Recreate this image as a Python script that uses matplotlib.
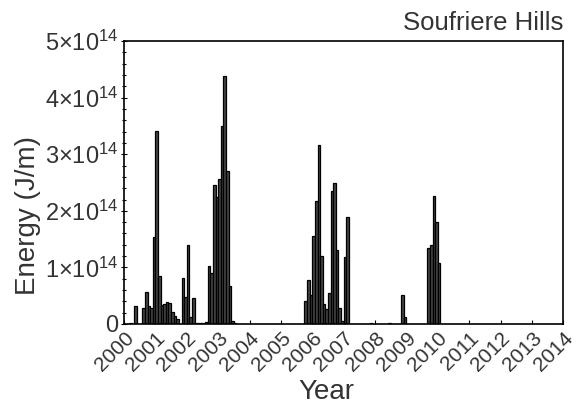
import numpy as np
import matplotlib
matplotlib.use("Agg")
import matplotlib.pyplot as plt
from matplotlib.ticker import MultipleLocator, FuncFormatter

plt.rcParams['font.family'] = ['Liberation Sans', 'DejaVu Sans']
plt.rcParams['mathtext.fontset'] = 'custom'
plt.rcParams['mathtext.rm'] = 'Liberation Sans'
plt.rcParams['mathtext.it'] = 'Liberation Sans'

# months since Jan 2000 that had a non-zero value, and energy in units of 1e14 J/m
months = [2, 4, 7, 8, 9, 10, 11, 12, 13, 14, 15, 16, 17, 18, 19, 20,
          22, 23, 24, 25, 26, 27, 28, 29, 30, 31, 32, 33, 34, 35, 36, 37, 38, 39, 40, 41, 42,
          69, 70, 71, 72, 73, 74, 75, 76, 77, 78, 79, 80, 81, 82, 83, 84, 85,
          94, 101, 106, 107, 116, 117, 118, 119, 120]
energy = [0.02, 0.31, 0.28, 0.57, 0.31, 0.29, 1.54, 3.41, 0.84, 0.34, 0.36, 0.38, 0.37, 0.21, 0.15, 0.09,
          0.82, 0.48, 1.39, 0.13, 0.46, 0.02, 0.02, 0.02, 0.02, 0.03, 1.02, 0.90, 2.45, 2.25, 2.56, 3.50, 4.38, 2.70, 0.67, 0.05, 0.02,
          0.41, 0.78, 0.51, 1.56, 2.17, 3.16, 1.21, 0.35, 0.26, 0.55, 2.35, 2.49, 1.31, 0.29, 0.05, 1.19, 1.89,
          0.02, 0.02, 0.52, 0.12, 1.34, 1.39, 2.26, 1.81, 1.07]
years = list(range(2000, 2015))

x = 2000 + np.array(months) / 12.0
y = np.array(energy) * 1e14

txt = '#333333'

fig = plt.figure(figsize=(5.77, 4.11), dpi=100)
ax = fig.add_axes([0.2149, 0.2117, 0.7615, 0.6883])

ax.bar(x, y, width=1 / 12.0, align='edge', color='#444444', edgecolor='black', linewidth=0.9)

ax.set_xlim(2000, 2014)
ax.set_ylim(0, 5e14)
ax.set_xticks(years)
ax.set_xticklabels([str(v) for v in years], rotation=45, ha='right', va='top',
                   rotation_mode='anchor', fontsize=15, color=txt)
ax.yaxis.set_major_locator(MultipleLocator(1e14))
ax.yaxis.set_minor_locator(MultipleLocator(0.2e14))
ax.yaxis.set_major_formatter(FuncFormatter(
    lambda v, p: '0' if v == 0 else r'$%d{\times}10^{14}$' % round(v / 1e14)))
for lab in ax.get_yticklabels():
    lab.set_fontsize(17)
    lab.set_color(txt)
ax.tick_params(axis='y', which='major', direction='inout', length=4, width=0.8, pad=2)
ax.tick_params(axis='y', which='minor', direction='inout', length=3, width=0.8)
ax.tick_params(axis='x', which='major', direction='in', length=3, width=0.8, pad=3)

for s in ax.spines.values():
    s.set_linewidth(1.2)

ax.set_xlabel('Year', fontsize=20, color=txt)
ax.xaxis.set_label_coords(0.46, -0.195)
ax.set_ylabel('Energy (J/m)', fontsize=20, color=txt)
ax.yaxis.set_label_coords(-0.19, 0.385)
ax.set_title('Soufriere Hills', loc='right', fontsize=18.5, color=txt, pad=8)

fig.savefig('out.png', dpi=100)
